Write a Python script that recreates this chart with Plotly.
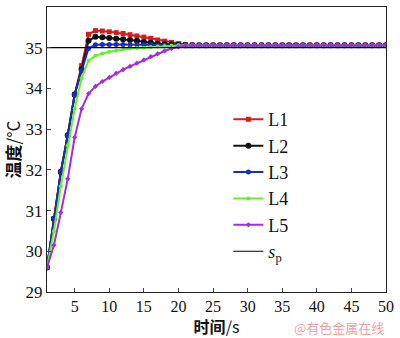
import plotly.graph_objects as go

t = list(range(1, 51))
tail = [35.06] * 28  # t = 23..50

L1 = [29.6, 30.8, 31.95, 32.85, 33.85, 34.56, 35.33, 35.42, 35.41, 35.39, 35.37, 35.35,
      35.32, 35.29, 35.26, 35.23, 35.19, 35.16, 35.13, 35.10, 35.08, 35.07] + tail
L2 = [29.6, 30.8, 31.95, 32.85, 33.85, 34.47, 35.17, 35.27, 35.26, 35.24, 35.22, 35.21,
      35.19, 35.17, 35.14, 35.12, 35.10, 35.09, 35.08, 35.07, 35.06, 35.06] + tail
L3 = [29.6, 30.8, 31.95, 32.85, 33.85, 34.43, 34.98, 35.07, 35.08, 35.08, 35.08, 35.08,
      35.07, 35.07, 35.07, 35.07, 35.06, 35.06, 35.06, 35.06, 35.06, 35.06] + tail
L4 = [29.6, 30.5, 31.6, 32.6, 33.5, 34.25, 34.68, 34.8, 34.86, 34.9, 34.93, 34.96,
      34.98, 34.99, 35.0, 35.02, 35.03, 35.04, 35.05, 35.06, 35.06, 35.06] + tail
L5 = [29.6, 30.15, 30.95, 31.78, 32.8, 33.5, 33.87, 34.05, 34.17, 34.27, 34.37, 34.46,
      34.54, 34.62, 34.7, 34.78, 34.85, 34.92, 34.98, 35.02, 35.05, 35.06] + tail
sp = [35.0] * 50

series = [
    ("L1", L1, "#d41c1c", "square", 5),
    ("L2", L2, "#111111", "circle", 6),
    ("L3", L3, "#1a2bc4", "circle", 5),
    ("L4", L4, "#66f02a", "circle", 4),
    ("L5", L5, "#a02ee0", "diamond", 4),
]

fig = go.Figure()
for name, y, c, sym, ms in series:
    fig.add_trace(go.Scatter(x=t, y=y, name=name, mode="lines+markers",
                             line=dict(color=c, width=2),
                             marker=dict(color=c, symbol=sym, size=ms)))
fig.add_trace(go.Scatter(x=t, y=sp, name="<i>s</i><sub>p</sub>", mode="lines",
                         line=dict(color="#000000", width=1.2)))

font = "Liberation Serif, serif"
cjk = "Noto Sans CJK SC"
fig.update_layout(
    width=400, height=338,
    margin=dict(l=44, r=8, t=6, b=46),
    paper_bgcolor="white", plot_bgcolor="white",
    font=dict(family=font, size=16, color="#111"),
    showlegend=True,
    legend=dict(x=0.535, y=0.67, xanchor="left", yanchor="top", bgcolor="rgba(0,0,0,0)",
                font=dict(size=18, family=font), itemwidth=30, tracegroupgap=0),
    xaxis=dict(range=[1, 50], tickvals=[5, 10, 15, 20, 25, 30, 35, 40, 45, 50],
               ticks="inside", ticklen=4, showgrid=False, zeroline=False,
               tickfont=dict(family=font, size=16), ticklabeloverflow="allow",
               showline=True, linecolor="#222", linewidth=1, mirror=True,
               title=dict(text="<b>时间</b>/s", font=dict(size=16, family=cjk), standoff=6)),
    yaxis=dict(range=[29, 36], dtick=1, ticks="inside", ticklen=4, showgrid=False,
               tickfont=dict(family=font, size=17),
               zeroline=False, showline=True, linecolor="#222", linewidth=1, mirror=True,
               title=dict(text="<b>温度</b>/°C", font=dict(size=17, family=cjk), standoff=8)),
)
fig.add_annotation(text="@有色金属在线", xref="paper", yref="paper", x=1.0, y=-0.126,
                   xanchor="right", yanchor="middle", showarrow=False,
                   font=dict(size=13, color="#f0a0a0", family=cjk))
fig.write_html("out.html")
